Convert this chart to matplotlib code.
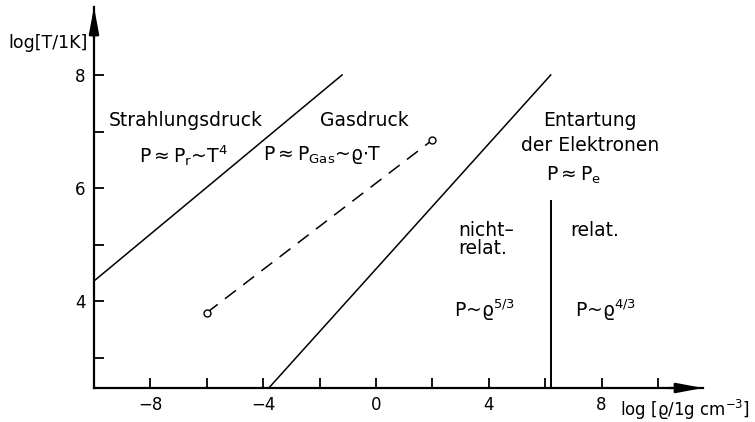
import matplotlib.pyplot as plt
import numpy as np

plt.rcParams['font.family'] = ['DejaVu Sans']
plt.rcParams['mathtext.default'] = 'regular'

# boundary lines in the log(rho) - log(T) plane
rad_x = [-10.0, -1.2]      # radiation pressure / gas pressure
rad_y = [4.36, 8.0]
deg_x = [-3.8, 6.2]        # gas pressure / electron degeneracy
deg_y = [2.47, 8.0]
gas_x = [-6.0, 2.0]        # dashed track with open end points
gas_y = [3.8, 6.85]
rel_x = 6.22               # non-relativistic / relativistic split
rel_top = 5.77

x_major = [-8, -4, 0, 4, 8]
x_minor = [-6, -2, 2, 6, 10]
y_major = [4, 6, 8]
y_minor = [3, 5, 7]

xmin, xmax = -10, 11.6
ymin, ymax = 2.47, 9.2

fig = plt.figure(figsize=(7.55, 4.22), dpi=100)
ax = fig.add_axes([94 / 755, 1 - 388 / 422, (703 - 94) / 755, (388 - 7) / 422])
ax.set_xlim(xmin, xmax)
ax.set_ylim(ymin, ymax)

for s in ['top', 'right']:
    ax.spines[s].set_visible(False)
for s in ['left', 'bottom']:
    ax.spines[s].set_linewidth(1.6)

ax.set_xticks(x_major)
ax.set_xticks(x_minor, minor=True)
ax.set_yticks(y_major)
ax.set_yticks(y_minor, minor=True)
ax.set_xticklabels([str(v).replace('-', '\u2212') for v in x_major])
ax.tick_params(which='both', direction='in', length=7, width=1.3, labelsize=12, pad=6)

# arrow heads on both axes
ax.annotate('', xy=(xmax, ymin), xytext=(xmax - 1.2, ymin),
            arrowprops=dict(arrowstyle='-|>,head_length=1.6,head_width=0.3',
                            color='black', lw=1.6, shrinkA=0, shrinkB=0),
            annotation_clip=False)
ax.annotate('', xy=(xmin, ymax), xytext=(xmin, ymax - 0.55),
            arrowprops=dict(arrowstyle='-|>,head_length=1.6,head_width=0.3',
                            color='black', lw=1.6, shrinkA=0, shrinkB=0),
            annotation_clip=False)

ax.plot(rad_x, rad_y, color='black', lw=1.1, clip_on=False)
ax.plot(deg_x, deg_y, color='black', lw=1.1, clip_on=False)
ax.plot(gas_x, gas_y, color='black', lw=1.1, dashes=(9, 6))
ax.plot(gas_x, gas_y, ls='none', marker='o', ms=5, mfc='white', mec='black', mew=1.0)
ax.plot([rel_x, rel_x], [ymin, rel_top], color='black', lw=1.4)

fs = 13.5
ax.text(-6.73, 7.19, 'Strahlungsdruck', fontsize=fs, ha='center', va='center')
ax.text(-6.84, 6.58, r'P$\approx$P$_r$~T$^4$', fontsize=fs, ha='center', va='center')
ax.text(-0.41, 7.19, 'Gasdruck', fontsize=fs, ha='center', va='center')
ax.text(-1.89, 6.58, r'P$\approx$P$_{Gas}$~ϱ$\cdot$T', fontsize=fs, ha='center', va='center')
ax.text(7.6, 7.19, 'Entartung', fontsize=fs, ha='center', va='center')
ax.text(7.6, 6.76, 'der Elektronen', fontsize=fs, ha='center', va='center')
ax.text(7.0, 6.23, r'P$\approx$P$_e$', fontsize=fs, ha='center', va='center')
ax.text(2.91, 5.26, 'nicht\u2013', fontsize=fs, ha='left', va='center')
ax.text(2.91, 4.94, 'relat.', fontsize=fs, ha='left', va='center')
ax.text(6.9, 5.26, 'relat.', fontsize=fs, ha='left', va='center')
ax.text(2.77, 3.84, r'P~ϱ$^{5/3}$', fontsize=fs, ha='left', va='center')
ax.text(7.07, 3.84, r'P~ϱ$^{4/3}$', fontsize=fs, ha='left', va='center')

fig.text(48 / 755, 1 - 43 / 422, 'log[T/1K]', fontsize=12.5, ha='center', va='center')
fig.text(620 / 755, 1 - 410 / 422, r'log [ϱ/1g cm$^{-3}$]', fontsize=12, ha='left', va='center')

fig.savefig('out.png', dpi=100)
